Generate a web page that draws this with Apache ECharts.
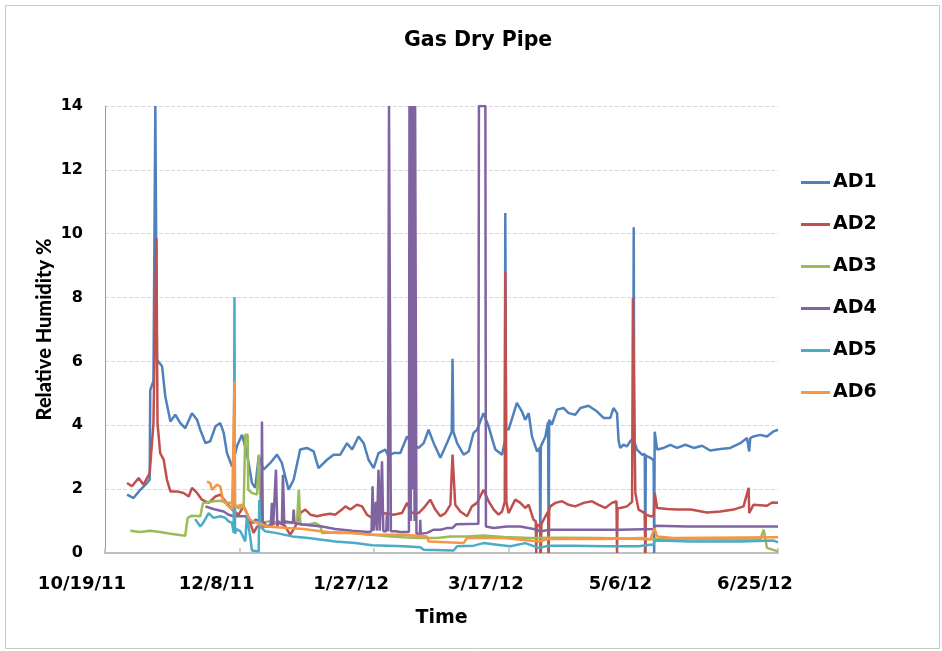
<!DOCTYPE html>
<html>
<head>
<meta charset="utf-8">
<script src="https://cdn.jsdelivr.net/npm/echarts@6/dist/echarts.min.js"></script>
<style>
html,body{margin:0;padding:0;background:#fff;}
#chart{width:942px;height:651px;}
</style>
</head>
<body>
<div id="chart"></div>
<script>
// x values are days since 10/19/11
const tickLabels = ['10/19/11', '12/8/11', '1/27/12', '3/17/12', '5/6/12', '6/25/12'];
const seriesNames = ['AD1', 'AD2', 'AD3', 'AD4', 'AD5', 'AD6'];

const AD1 = [[8.2,1.83],[10.6,1.72],[13.1,1.98],[15.6,2.19],[16.6,2.3],[16.8,5.1],[18.0,5.4],[18.7,14],[19.1,14],[19.3,6.05],[21.2,5.85],[22.4,4.9],[24.3,4.12],[26.1,4.33],[28.0,4.07],[29.8,3.91],[32.3,4.38],[34.2,4.17],[35.4,3.86],[37.3,3.44],[39.1,3.5],[41.0,3.96],[42.8,4.07],[44.1,3.76],[45.3,3.13],[47.2,2.71],[49.0,3.34],[50.9,3.7],[52.7,3.13],[54.6,2.19],[55.8,2.04],[57.1,3.03],[58.9,2.61],[61.4,2.82],[63.9,3.08],[65.7,2.82],[68.2,1.98],[70.1,2.3],[72.5,3.24],[75.0,3.29],[77.5,3.18],[79.3,2.66],[82.5,2.92],[84.9,3.08],[87.4,3.08],[89.9,3.44],[91.8,3.24],[94.2,3.65],[96.1,3.44],[97.9,2.92],[99.8,2.66],[101.6,3.13],[104.1,3.24],[105.3,3.03],[107.2,3.13],[109.7,3.13],[112.2,3.65],[114.0,3.44],[116.5,3.29],[118.4,3.44],[120.2,3.86],[122.1,3.44],[124.6,2.98],[127.0,3.44],[128.8,3.8],[129.1,6.08],[129.4,3.8],[130.8,3.44],[133.2,3.08],[135.1,3.18],[136.9,3.76],[138.2,3.86],[140.6,4.38],[142.5,3.96],[145.0,3.24],[147.5,3.08],[148.5,3.5],[148.7,10.65],[149.0,3.9],[149.9,3.86],[153.0,4.7],[154.9,4.43],[156.1,4.17],[157.4,4.38],[158.6,3.65],[160.5,3.18],[161.5,3.3],[161.7,0],[161.9,3.34],[163.6,3.65],[164.6,4.1],[164.8,0],[165.0,4.17],[166.0,4.02],[167.9,4.49],[170.4,4.54],[172.2,4.38],[174.7,4.33],[176.6,4.54],[179.6,4.61],[182.8,4.43],[185.2,4.23],[187.7,4.23],[188.9,4.54],[190.2,4.38],[190.8,3.5],[191.4,3.29],[192.6,3.39],[193.9,3.34],[195.1,3.5],[196.2,3.6],[196.4,10.2],[196.6,3.5],[197.6,3.24],[199.5,3.08],[200.5,3.1],[200.7,0],[200.9,3.05],[202.6,2.98],[203.8,2.9],[204.0,0],[204.2,3.8],[205.1,3.24],[207.5,3.29],[210.0,3.39],[212.5,3.29],[215.6,3.39],[218.7,3.29],[221.8,3.36],[224.8,3.21],[228.6,3.26],[232.3,3.29],[236.0,3.44],[238.5,3.6],[239.3,3.18],[239.7,3.6],[240.9,3.65],[243.4,3.7],[245.9,3.65],[248.4,3.81],[250,3.86]];

const AD2 = [[8.2,2.19],[10.0,2.09],[12.5,2.35],[14.3,2.14],[16.6,2.5],[18.0,4.07],[19.1,9.86],[19.5,4.07],[20.5,3.13],[21.8,2.92],[23.0,2.3],[24.3,1.93],[26.7,1.93],[29.2,1.88],[31.1,1.77],[32.3,2.04],[34.2,1.88],[36.0,1.67],[38.5,1.57],[41.0,1.77],[42.8,1.83],[44.7,1.62],[47.2,1.36],[49.6,1.2],[51.5,1.46],[52.7,1.25],[55.2,0.63],[56.5,0.83],[60.8,0.83],[64.5,0.99],[67.0,0.83],[68.8,0.57],[70.7,0.83],[72.6,1.25],[74.4,1.36],[76.3,1.2],[78.8,1.15],[81.2,1.2],[83.7,1.23],[85.5,1.2],[88.0,1.36],[89.3,1.46],[91.1,1.36],[93.6,1.51],[95.5,1.46],[97.3,1.2],[99.2,1.1],[101.0,1.15],[104.1,1.25],[107.2,1.2],[110.3,1.25],[112.2,1.57],[114.0,1.25],[116.5,1.25],[118.4,1.41],[120.8,1.67],[122.7,1.36],[124.6,1.15],[126.4,1.25],[128.3,1.51],[129.1,3.08],[130.1,1.51],[132.0,1.3],[134.5,1.15],[136.3,1.46],[138.2,1.57],[140.6,1.98],[142.5,1.62],[144.4,1.36],[146.2,1.2],[147.5,1.3],[148.5,1.6],[148.7,8.82],[149.1,1.6],[149.9,1.25],[152.4,1.67],[154.3,1.57],[156.1,1.41],[157.4,1.51],[159.2,1.04],[160.0,1.0],[160.2,0],[160.4,0.9],[161.6,0.83],[161.9,0],[162.1,0.9],[163.6,1.15],[164.6,1.3],[164.8,0],[165.0,1.35],[165.4,1.46],[167.3,1.57],[169.8,1.62],[172.2,1.51],[174.7,1.46],[177.8,1.57],[180.9,1.62],[183.4,1.51],[185.8,1.41],[188.3,1.57],[190.0,1.62],[190.2,0],[190.4,1.4],[191.4,1.41],[193.9,1.46],[195.8,1.6],[196.1,7.99],[197.0,1.88],[198.2,1.36],[200.5,1.25],[200.7,0],[200.9,1.2],[202.6,1.15],[203.8,1.15],[204.2,1.88],[205.1,1.41],[208.8,1.38],[212.5,1.36],[217.6,1.36],[223.6,1.27],[228.6,1.3],[233.5,1.36],[237.2,1.46],[239.1,2.04],[239.3,1.25],[240.9,1.51],[245.9,1.48],[247.8,1.58],[250,1.57]];

const AD3 = [[9.4,0.7],[13.1,0.66],[16.8,0.7],[20.5,0.66],[24.3,0.6],[29.8,0.54],[30.7,1.1],[32.3,1.17],[35.4,1.15],[36.4,1.57],[37.9,1.58],[40.3,1.62],[42.8,1.64],[44.7,1.58],[46.6,1.57],[48.4,1.51],[49.5,1.4],[51.5,1.45],[52.1,3.7],[53.0,3.7],[53.2,1.98],[54.6,1.88],[56.5,1.83],[57.1,3.08],[57.7,1.77],[58.1,0.94],[60.8,0.99],[65.1,0.95],[71.3,0.94],[72.0,1.98],[72.6,0.89],[75.6,0.89],[78.1,0.94],[80.0,0.85],[80.6,0.63],[85.5,0.65],[91.8,0.63],[99.2,0.57],[106.0,0.52],[110.9,0.49],[117.1,0.47],[123.3,0.47],[128.3,0.52],[134.5,0.52],[140.6,0.55],[148.1,0.5],[158.0,0.47],[169.1,0.48],[184.0,0.47],[198.8,0.44],[221.2,0.43],[243.4,0.42],[244.7,0.73],[245.9,0.16],[250,0.05]];

const AD4 = [[37.3,1.46],[39.1,1.41],[41.0,1.36],[44.1,1.3],[45.9,1.2],[47.8,1.15],[49.6,1.15],[52.1,1.15],[55.2,0.94],[55.8,1.04],[58.1,1.0],[58.3,4.12],[58.6,1.0],[60.2,0.83],[61.6,0.9],[62.0,1.57],[62.5,0.9],[63.5,2.61],[64.0,0.85],[64.5,0.95],[65.7,0.9],[66.1,2.45],[66.6,0.9],[67.0,0.99],[69.8,0.95],[70.1,1.36],[70.4,0.94],[73.2,0.89],[80.6,0.83],[85.5,0.75],[91.8,0.7],[97.9,0.66],[99.0,0.68],[99.4,2.09],[99.8,0.7],[100.6,1.6],[101.0,0.7],[101.6,2.61],[102.1,0.7],[102.9,2.87],[103.4,0.68],[104.5,0.68],[104.7,1.26],[105.1,0.68],[105.5,14],[105.9,14],[106.2,0.68],[107.9,0.68],[109.7,0.66],[112.9,0.66],[113.1,14],[113.4,14],[113.6,1],[113.8,14],[114.1,14],[114.3,2],[114.5,14],[114.8,14],[115.0,1],[115.2,14],[115.5,14],[115.7,0.6],[117.0,0.6],[117.1,1.04],[117.3,0.6],[119.6,0.63],[122.1,0.73],[124.6,0.73],[127.0,0.78],[129.0,0.78],[130.5,0.9],[138.7,0.92],[138.9,14],[141.3,14],[141.5,0.83],[144.4,0.78],[149.3,0.83],[154.3,0.83],[159.2,0.75],[161.7,0.68],[165.4,0.73],[179.1,0.73],[191.4,0.73],[203.8,0.75],[204.4,0.85],[216.2,0.83],[228.6,0.83],[250,0.83]];

const AD5 = [[33.5,1.06],[35.4,0.83],[36.5,0.95],[38.5,1.25],[40.3,1.1],[42.8,1.15],[44.7,1.1],[45.9,0.99],[47.2,0.94],[47.8,0.63],[48.0,0.6],[48.1,8.02],[48.3,0.6],[48.8,0.75],[50.3,0.68],[52.1,0.36],[52.7,1.15],[53.3,1.1],[53.9,0.52],[54.6,0.08],[57.1,0.05],[57.3,1.67],[57.7,0.83],[59.5,0.68],[63.3,0.63],[69.5,0.52],[75.6,0.47],[85.5,0.36],[93.0,0.31],[99.2,0.24],[110.9,0.21],[117.1,0.18],[118.4,0.1],[129.5,0.08],[130.8,0.21],[136.9,0.23],[140.6,0.31],[145.6,0.26],[150.6,0.21],[156.1,0.31],[161.1,0.16],[164.8,0.23],[173.5,0.23],[185.8,0.21],[198.2,0.21],[202.6,0.26],[203.8,0.26],[204.2,0.38],[206.3,0.39],[217.4,0.36],[236.0,0.36],[248.4,0.39],[250,0.33]];

const AD6 = [[37.9,2.24],[39.1,2.19],[39.7,1.98],[41.6,2.14],[42.8,2.09],[43.4,2.04],[43.8,1.67],[45.3,1.51],[47.2,1.36],[47.9,1.4],[48.1,5.37],[48.3,1.45],[49.0,1.46],[50.9,1.51],[52.1,1.36],[53.9,1.04],[56.5,0.94],[60.2,0.83],[67.6,0.78],[73.8,0.75],[80.0,0.68],[86.2,0.63],[91.8,0.63],[99.2,0.57],[110.9,0.57],[119.6,0.52],[120.2,0.36],[133.2,0.31],[134.5,0.47],[148.1,0.47],[161.1,0.36],[164.8,0.44],[185.8,0.44],[199.5,0.47],[202.6,0.42],[204.1,0.78],[205.1,0.52],[211.2,0.47],[250,0.49]];

const seriesData = [AD1, AD2, AD3, AD4, AD5, AD6];
const colors = ['#4F81BD', '#C0504D', '#9BBB59', '#8064A2', '#4BACC6', '#F79646'];

const FONT = 'DejaVu Sans';
const chart = echarts.init(document.getElementById('chart'), null, {renderer: 'canvas'});
chart.setOption({
  animation: false,
  backgroundColor: '#fff',
  color: colors,
  title: {
    text: 'Gas Dry Pipe',
    left: 404,
    top: 30,
    padding: 0,
    textStyle: {fontFamily: FONT, fontWeight: 'bold', fontSize: 20.5, color: '#000'}
  },
  graphic: [{
    type: 'rect', left: 3, top: 3,
    shape: {width: 934, height: 643},
    style: {fill: 'none', stroke: '#c8c8c8', lineWidth: 1}
  }],
  legend: {
    orient: 'vertical',
    left: 801,
    top: 172.5,
    padding: 0,
    icon: 'rect',
    itemWidth: 29,
    itemHeight: 3,
    itemGap: 22,
    textStyle: {fontFamily: FONT, fontWeight: 'bold', fontSize: 19, color: '#000', lineHeight: 20, padding: [0, 0, 0, -2]}
  },
  grid: {left: 105, right: 164, top: 106, bottom: 98, outerBoundsMode: 'none'},
  xAxis: {
    type: 'value',
    min: 0, max: 250, interval: 50,
    name: 'Time',
    nameLocation: 'middle',
    nameGap: 56,
    nameMoveOverlap: false,
    nameTextStyle: {fontFamily: FONT, fontWeight: 'bold', fontSize: 19, color: '#000'},
    axisLine: {lineStyle: {color: '#bfbfbf', width: 2}},
    axisTick: {show: true, inside: true, length: 5, lineStyle: {color: '#bfbfbf', width: 1.5}},
    splitLine: {show: false},
    axisLabel: {
      margin: 22,
      fontFamily: FONT, fontWeight: 'bold', fontSize: 18, color: '#000',
      padding: [0, 46, 0, 0],
      formatter: function (v) { return tickLabels[Math.round(v / 50)] || ''; }
    }
  },
  yAxis: {
    type: 'value',
    min: 0, max: 14, interval: 2,
    name: 'Relative Humidity %',
    nameLocation: 'middle',
    nameGap: 50,
    nameMoveOverlap: false,
    nameTextStyle: {fontFamily: 'Lato', fontWeight: 900, fontSize: 20, color: '#000'},
    axisLine: {show: true, lineStyle: {color: '#9a9a9a', width: 1}},
    axisTick: {show: false},
    splitLine: {show: true, lineStyle: {color: '#d9d9d9', type: 'dashed', width: 1}},
    axisLabel: {margin: 22, fontFamily: FONT, fontWeight: 'bold', fontSize: 16, color: '#000'}
  },
  series: seriesNames.map(function (n, i) {
    return {
      name: n,
      type: 'line',
      data: seriesData[i],
      symbol: 'none',
      lineStyle: {width: 2.5, color: colors[i]},
      itemStyle: {color: colors[i]},
      clip: true
    };
  })
});
</script>
</body>
</html>
